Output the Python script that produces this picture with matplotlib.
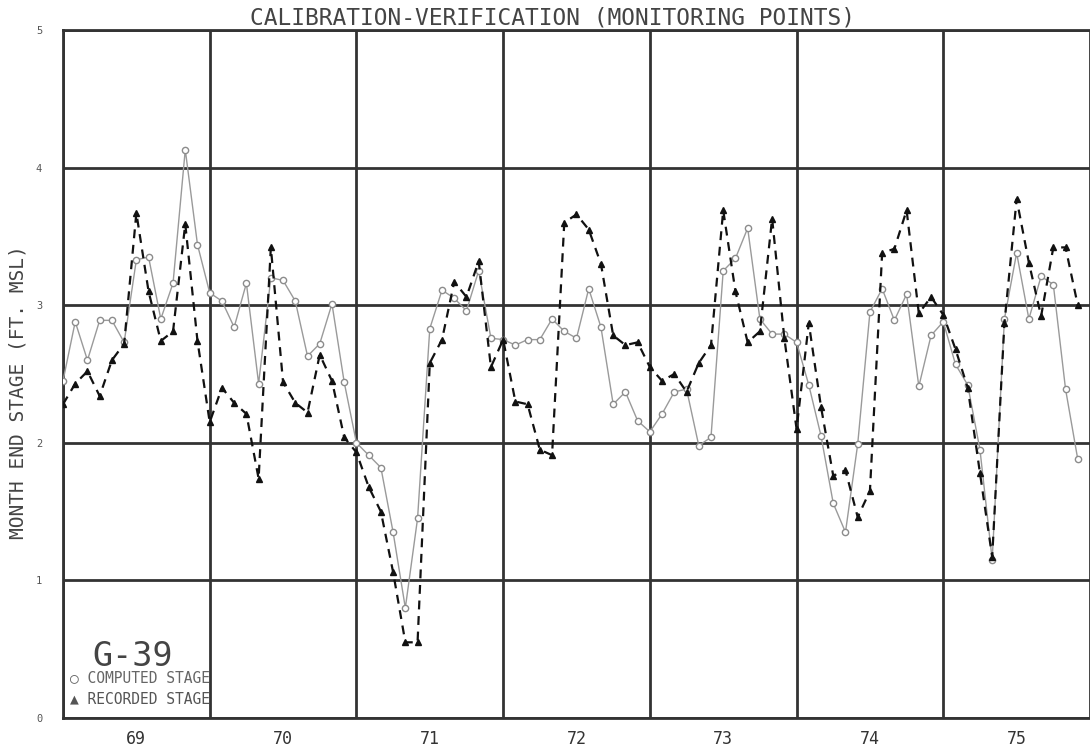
import numpy as np
import matplotlib
matplotlib.use('Agg')
import matplotlib.pyplot as plt

MONO = ['DejaVu Sans Mono', 'DejaVu Sans']
TITLE = 'CALIBRATION-VERIFICATION (MONITORING POINTS)'
Y_LABEL = 'MONTH END STAGE (FT. MSL)'
STATION = 'G-39'

YEARS = [1969, 1970, 1971, 1972, 1973, 1974, 1975]
YEAR_LABELS = ['69', '70', '71', '72', '73', '74', '75']

# month end stages, first value is end of Dec 1968
computed_1968 = [2.45]
computed_1969 = [2.88, 2.60, 2.89, 2.89, 2.73, 3.33, 3.35, 2.90, 3.16, 4.13, 3.44, 3.09]
computed_1970 = [3.03, 2.84, 3.16, 2.43, 3.20, 3.18, 3.03, 2.63, 2.72, 3.01, 2.44, 2.00]
computed_1971 = [1.91, 1.82, 1.35, 0.80, 1.45, 2.83, 3.11, 3.05, 2.96, 3.25, 2.76, 2.75]
computed_1972 = [2.71, 2.75, 2.75, 2.90, 2.81, 2.76, 3.12, 2.84, 2.28, 2.37, 2.16, 2.08]
computed_1973 = [2.21, 2.37, 2.39, 1.98, 2.04, 3.25, 3.34, 3.56, 2.90, 2.79, 2.79, 2.73]
computed_1974 = [2.42, 2.05, 1.56, 1.35, 1.99, 2.95, 3.12, 2.89, 3.08, 2.41, 2.78, 2.88]
computed_1975 = [2.57, 2.42, 1.95, 1.15, 2.90, 3.38, 2.90, 3.21, 3.15, 2.39, 1.88]

recorded_1968 = [2.28]
recorded_1969 = [2.43, 2.52, 2.34, 2.60, 2.72, 3.67, 3.10, 2.74, 2.81, 3.59, 2.74, 2.15]
recorded_1970 = [2.40, 2.29, 2.21, 1.74, 3.42, 2.44, 2.29, 2.22, 2.64, 2.45, 2.04, 1.93]
recorded_1971 = [1.68, 1.50, 1.06, 0.55, 0.55, 2.58, 2.75, 3.17, 3.06, 3.32, 2.55, 2.75]
recorded_1972 = [2.30, 2.28, 1.95, 1.91, 3.60, 3.66, 3.55, 3.30, 2.78, 2.71, 2.73, 2.55]
recorded_1973 = [2.45, 2.50, 2.37, 2.58, 2.71, 3.69, 3.10, 2.73, 2.81, 3.63, 2.76, 2.10]
recorded_1974 = [2.87, 2.26, 1.76, 1.80, 1.46, 1.65, 3.38, 3.41, 3.69, 2.94, 3.06, 2.93]
recorded_1975 = [2.68, 2.40, 1.78, 1.17, 2.87, 3.77, 3.31, 2.92, 3.42, 3.42, 3.00]


def join(*parts):
    out = []
    for p in parts:
        out += p
    return np.array(out)


computed = join(computed_1968, computed_1969, computed_1970, computed_1971,
                computed_1972, computed_1973, computed_1974, computed_1975)
recorded = join(recorded_1968, recorded_1969, recorded_1970, recorded_1971,
                recorded_1972, recorded_1973, recorded_1974, recorded_1975)
# time in years, month ends
t = YEARS[0] + np.arange(len(computed)) / 12.0

W, H = 1090, 750
fig = plt.figure(figsize=(W / 100, H / 100), dpi=100)
ax = fig.add_axes([63 / W, 32 / H, (W - 63) / W, (718 - 30) / H])

ax.plot(t, computed, color='#9a9a9a', lw=1.0, marker='o', ms=4.5,
        mfc='white', mec='#8c8c8c', mew=1.0, zorder=3)
ax.plot(t, recorded, color='#111111', lw=1.6, ls=(0, (4, 3)), marker='^', ms=4.5,
        mfc='#111111', mec='#111111', zorder=4)

ax.set_xlim(YEARS[0], YEARS[0] + (W - 63) / 147.83)
ax.set_ylim(0, 5)

ax.set_xticks([y + 0.5 for y in YEARS])
ax.set_xticklabels(YEAR_LABELS, family=MONO, fontsize=12, color='#333333')
ax.set_xticks(YEARS + [YEARS[-1] + 1], minor=True)
ax.set_yticks(range(6))
ax.set_yticklabels([str(i) for i in range(6)], family=MONO, fontsize=7.5, color='#555555')
ax.tick_params(axis='x', which='both', length=0, pad=9)
ax.tick_params(axis='y', length=0, pad=15)

ax.grid(axis='x', which='minor', color='#333333', lw=2)
ax.grid(axis='y', which='major', color='#333333', lw=2)
for side in ['left', 'bottom', 'top']:
    ax.spines[side].set_color('#333333')
    ax.spines[side].set_linewidth(2)
ax.spines['right'].set_visible(False)

fig.text(552 / W, 1 - 18 / H, TITLE, family=MONO, fontsize=16.5, color='#444444',
         ha='center', va='center')
fig.text(18 / W, 1 - 392 / H, Y_LABEL, family=MONO, fontsize=14, color='#444444',
         rotation=90, ha='center', va='center')

fig.text(92 / W, 1 - 656 / H, STATION, family=MONO, fontsize=24, color='#444444',
         ha='left', va='center')
fig.text(70 / W, 1 - 678 / H, '\u25cb COMPUTED STAGE', family=MONO, fontsize=10.5,
         color='#666666', ha='left', va='center')
fig.text(70 / W, 1 - 699 / H, '\u25b2 RECORDED STAGE', family=MONO, fontsize=10.5,
         color='#555555', ha='left', va='center')

fig.savefig('out.png', dpi=100)
